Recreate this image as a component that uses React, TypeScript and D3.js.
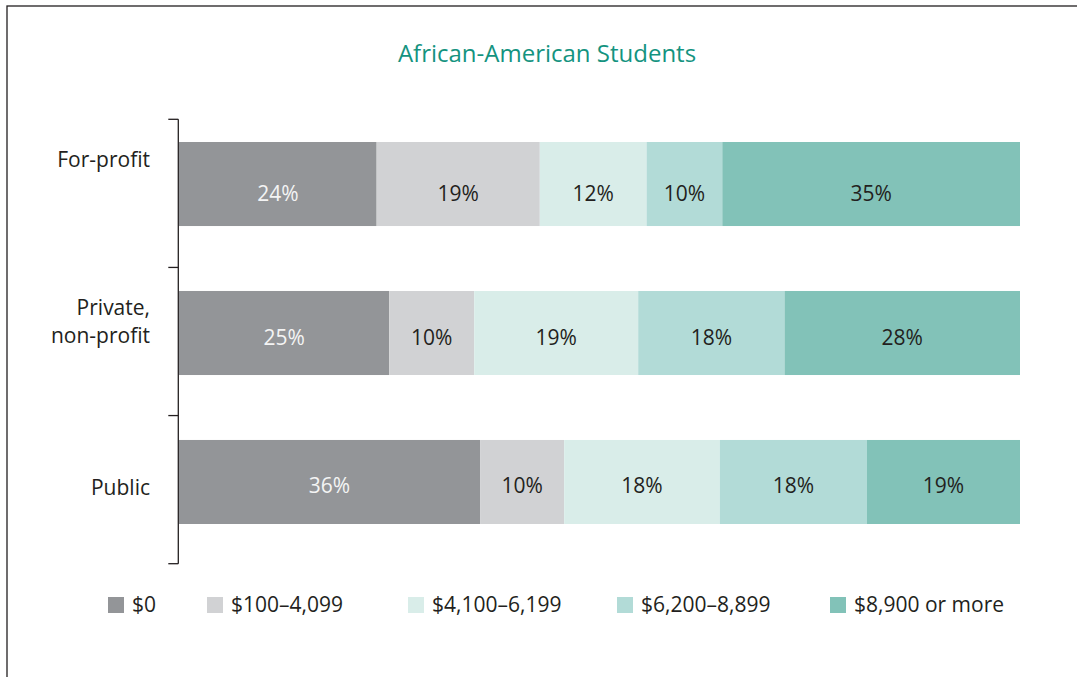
import React from "react";
import * as d3 from "d3";

const title = "African-American Students";
const categories = ["For-profit", "Private, non-profit", "Public"];
const categoryLines = [["For-profit"], ["Private,", "non-profit"], ["Public"]];
const seriesNames = ["$0", "$100–4,099", "$4,100–6,199", "$6,200–8,899", "$8,900 or more"];
const seriesColors = ["#939598", "#d1d2d4", "#d9ede9", "#b2dbd7", "#82c2b8"];
const labelColors = ["#f4f4f4", "#231f20", "#231f20", "#231f20", "#231f20"];
// measured shares (percent) per category, series order as above
const forProfit = [23.5, 19.4, 12.7, 9.0, 35.4];
const privateNonProfit = [25.0, 10.1, 19.5, 17.4, 28.0];
const publicInst = [35.8, 10.0, 18.5, 17.5, 18.2];
// printed labels
const forProfitLabels = ["24%", "19%", "12%", "10%", "35%"];
const privateLabels = ["25%", "10%", "19%", "18%", "28%"];
const publicLabels = ["36%", "10%", "18%", "18%", "19%"];

const W = 1077;
const H = 677;
const FONT = "'Open Sans', Lato, sans-serif";
const TEXT = "#231f20";

export default function App() {
  const values = [forProfit, privateNonProfit, publicInst];
  const labels = [forProfitLabels, privateLabels, publicLabels];

  const x = d3.scaleLinear().domain([0, 100]).range([179, 1020]);
  const yAxis = d3.scaleBand().domain(categories).range([119.3, 563.7]).padding(0);
  const yBar = d3
    .scaleBand()
    .domain(categories)
    .range([142, 524])
    .paddingInner(0.436)
    .paddingOuter(0);

  const stacked = values.map((row) => {
    let acc = 0;
    return row.map((v) => {
      const s = acc;
      acc += v;
      return [s, acc];
    });
  });

  const valueDy = [17, 12, 11.5];
  const catDy = [-17, -18, 13.5];
  const tickYs = [...categories.map((c) => yAxis(c) as number), 563.7];
  const legendX = [108, 207, 408, 617, 830];

  return (
    <div style={{ position: "fixed", left: 0, top: 0 }}>
      <svg width={W} height={H} style={{ display: "block", background: "#fff" }}>
        <rect x={7} y={6} width={1200} height={800} fill="none" stroke={TEXT} strokeWidth={1.3} />
        <text x={547} y={62} textAnchor="middle" fontFamily={FONT} fontSize={24} fill="#14937f">
          {title}
        </text>
        {categories.map((c, i) => {
          const y0 = yBar(c) as number;
          const bw = yBar.bandwidth();
          return (
            <g key={c}>
              {stacked[i].map(([s, e], j) => (
                <rect
                  key={j}
                  x={x(s)}
                  y={y0}
                  width={x(e) - x(s)}
                  height={bw}
                  fill={seriesColors[j]}
                />
              ))}
              {stacked[i].map(([s, e], j) => (
                <text
                  key={"t" + j}
                  x={(x(s) + x(e)) / 2}
                  y={y0 + bw / 2 + valueDy[i]}
                  textAnchor="middle"
                  fontFamily={FONT}
                  fontSize={21}
                  fill={labelColors[j]}
                >
                  {labels[i][j]}
                </text>
              ))}
              <text
                x={150}
                y={y0 + bw / 2 + catDy[i]}
                textAnchor="end"
                fontFamily={FONT}
                fontSize={21}
                fill={TEXT}
              >
                {categoryLines[i].map((ln, k) => (
                  <tspan key={k} x={150} dy={k === 0 ? 0 : 28}>
                    {ln}
                  </tspan>
                ))}
              </text>
            </g>
          );
        })}
        <line x1={178.3} x2={178.3} y1={tickYs[0]} y2={tickYs[3]} stroke={TEXT} strokeWidth={1.3} />
        {tickYs.map((t, i) => (
          <line key={i} x1={168.3} x2={178.3} y1={t} y2={t} stroke={TEXT} strokeWidth={1.3} />
        ))}
        {seriesNames.map((n, i) => (
          <g key={n}>
            <rect x={legendX[i]} y={597} width={16} height={16} fill={seriesColors[i]} />
            <text x={legendX[i] + 24} y={612} fontFamily={FONT} fontSize={21} fill={TEXT}>
              {n}
            </text>
          </g>
        ))}
      </svg>
    </div>
  );
}
